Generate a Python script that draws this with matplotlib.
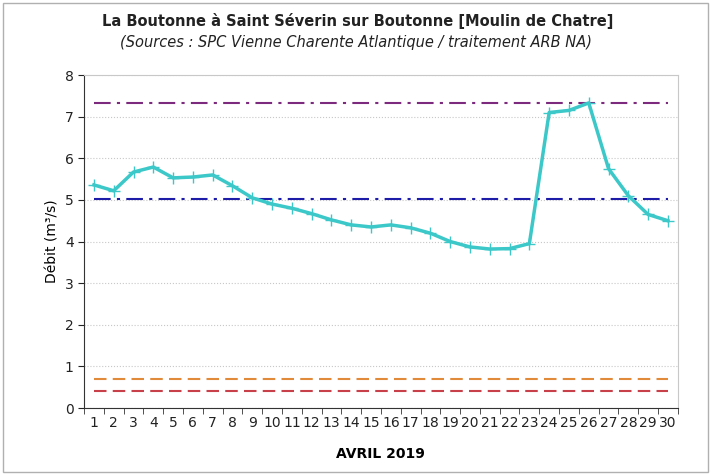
import numpy as np
import matplotlib.pyplot as plt

# Débits journaliers - avril 2019
jours = list(range(1, 31))
debit = [5.36, 5.22, 5.67, 5.79, 5.53, 5.55, 5.60, 5.34, 5.05, 4.90,
         4.80, 4.67, 4.52, 4.40, 4.35, 4.40, 4.33, 4.20, 4.00, 3.87,
         3.82, 3.83, 3.95, 7.10, 7.15, 7.33, 5.75, 5.10, 4.65, 4.50]

# Seuils
seuil_violet = 7.34
seuil_bleu = 5.03
seuil_orange = 0.70
seuil_rouge = 0.40

fig = plt.figure(figsize=(7.12, 4.75), dpi=100)
ax = fig.add_axes([0.118, 0.141, 0.834, 0.701])

ax.plot(jours, [seuil_violet] * len(jours), color='#7B2A7E', lw=1.5, ls=(0, (8, 3, 1.5, 3)))
ax.plot(jours, [seuil_bleu] * len(jours), color='#1C1CA8', lw=1.5, ls=(0, (8, 3, 1.5, 3)))
ax.plot(jours, [seuil_orange] * len(jours), color='#E08A3A', lw=1.5, ls=(0, (6, 3)))
ax.plot(jours, [seuil_rouge] * len(jours), color='#C8404A', lw=1.5, ls=(0, (6, 3)))

ax.plot(jours, debit, color='#3CC8C8', lw=2.5, marker='+', ms=8, mew=1.0)

ax.set_xlim(0.5, 30.5)
ax.set_ylim(0, 8)
ax.set_xticks(jours)
ax.set_xticks(np.arange(0.5, 31, 1), minor=True)
ax.set_yticks(range(0, 9))
ax.tick_params(labelsize=10, colors='#222222', length=4)
ax.tick_params(axis='x', which='major', length=0, pad=6)
ax.tick_params(axis='x', which='minor', length=4, color='#333333')
ax.yaxis.grid(True, color='#c8c8c8', ls=':', lw=0.8)
ax.set_axisbelow(True)

for s in ['top', 'right']:
    ax.spines[s].set_color('#c8c8c8')
for s in ['left', 'bottom']:
    ax.spines[s].set_color('#333333')

ax.set_ylabel('Débit (m³/s)', fontsize=10)
ax.set_xlabel('AVRIL 2019', fontsize=10, fontweight='bold', labelpad=12)

fig.text(0.503, 0.945, 'La Boutonne à Saint Séverin sur Boutonne [Moulin de Chatre]',
         ha='center', fontsize=10.5, fontweight='semibold', color='#222222')
fig.text(0.5, 0.9, '(Sources : SPC Vienne Charente Atlantique / traitement ARB NA)',
         ha='center', fontsize=10.5, style='italic', color='#222222')

# cadre autour de la figure
fig.patches.append(plt.Rectangle((0.004, 0.006), 0.99, 0.988, transform=fig.transFigure,
                                 fill=False, ec='#b0b0b0', lw=1))

fig.savefig('out.png', dpi=100)
